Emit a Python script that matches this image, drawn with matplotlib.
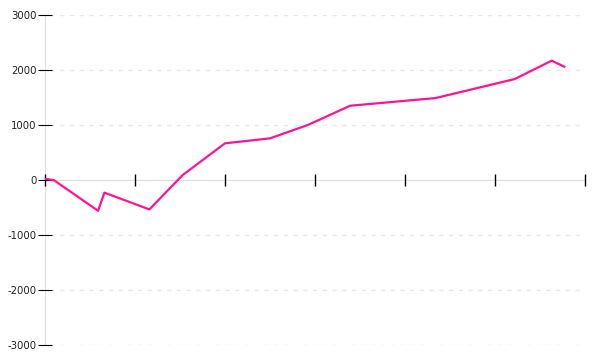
import numpy as np
import matplotlib
matplotlib.use('Agg')
import matplotlib.pyplot as plt

# values
x_vals = [0.01, 0.10, 0.59, 0.66, 1.16, 1.53, 2.00, 2.50, 2.92, 3.39, 4.34, 5.22, 5.63, 5.77]
y_vals = [20, -5, -560, -230, -535, 90, 667, 757, 1000, 1350, 1490, 1836, 2170, 2060]
y_ticks = [-3000, -2000, -1000, 0, 1000, 2000, 3000]
x_ticks = [0, 1, 2, 3, 4, 5, 6]

fig = plt.figure(figsize=(6, 3.6), dpi=100)
ax = fig.add_axes([0.075, 0.0417, 0.9, 0.9166])

# dotted grid lines
for yv in y_ticks:
    if yv != 0:
        ax.axhline(yv, color='#e8e8e8', lw=1, ls=(0, (3, 4)), xmin=0.01, zorder=0)

ax.plot(x_vals, y_vals, color='#ff1493', lw=1.6, zorder=3)

ax.set_xlim(0, 6)
ax.set_ylim(-3000, 3000)

ax.spines['top'].set_visible(False)
ax.spines['right'].set_visible(False)
ax.spines['left'].set_color('#dddddd')
ax.spines['bottom'].set_color('#dddddd')
ax.spines['left'].set_zorder(0.5)
ax.spines['bottom'].set_zorder(0.5)
ax.spines['bottom'].set_position(('data', 0))

ax.set_yticks(y_ticks)
ax.set_yticklabels([str(v) for v in y_ticks])
ax.set_xticks(x_ticks)
ax.set_xticklabels([])
ax.tick_params(axis='y', direction='inout', length=10, width=0.8, color='black',
               labelsize=7.3, labelcolor='#222222', pad=1)
ax.tick_params(axis='x', direction='inout', length=8, width=1, color='black')
for t in ax.xaxis.get_major_ticks():
    t.tick1line.set_clip_on(False)

fig.savefig('out.png', dpi=100)
